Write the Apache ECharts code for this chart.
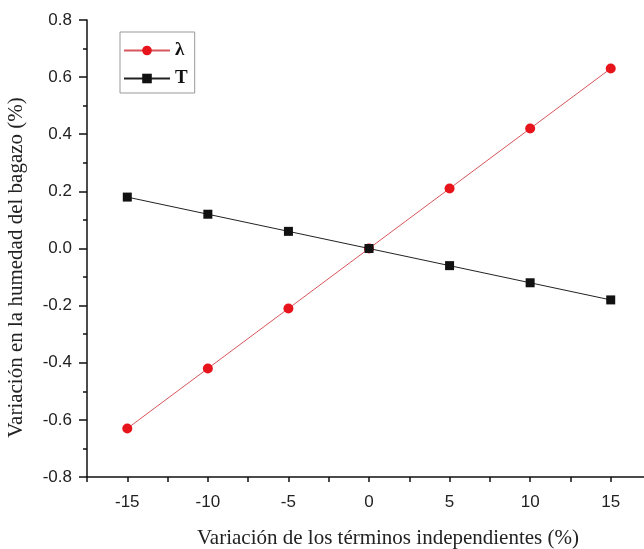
<!DOCTYPE html>
<html>
<head>
<meta charset="utf-8">
<script src="https://cdn.jsdelivr.net/npm/echarts@6/dist/echarts.min.js"></script>
<style>
  html, body { margin: 0; padding: 0; background: #fff; }
  #chart { width: 644px; height: 549px; }
</style>
</head>
<body>
<div id="chart"></div>
<script>
// Variation of independent terms (%)
const xValues = [-15, -10, -5, 0, 5, 10, 15];
// Moisture variation for each parameter (%)
const lambdaValues = [-0.63, -0.42, -0.21, 0.0, 0.21, 0.42, 0.63];
const tValues = [0.18, 0.12, 0.06, 0.0, -0.06, -0.12, -0.18];
const seriesNames = ['λ', 'T'];

const pairs = (ys) => xValues.map((x, i) => [x, ys[i]]);

const chart = echarts.init(document.getElementById('chart'));
const labelFont = { color: '#222', fontSize: 17, fontFamily: 'Liberation Sans, Arial, sans-serif' };
const titleFont = { color: '#222', fontSize: 21, fontFamily: 'Liberation Serif, Times New Roman, serif' };

chart.setOption({
  animation: false,
  backgroundColor: '#fff',
  grid: { left: 87, top: 20, width: 564, height: 457, containLabel: false, outerBoundsMode: 'none' },
  legend: {
    left: 120, top: 32,
    orient: 'vertical',
    itemWidth: 46, itemHeight: 12, itemGap: 9,
    padding: [9, 7, 5, 3],
    borderColor: '#999', borderWidth: 1,
    textStyle: { color: '#111', fontSize: 19, fontFamily: 'Liberation Serif, Times New Roman, serif', fontWeight: 'bold' },
    data: seriesNames
  },
  xAxis: {
    type: 'value',
    min: -17.5, max: 17.5, interval: 2.5,
    name: 'Variación de los términos independientes (%)',
    nameLocation: 'middle', nameGap: 51,
    nameTextStyle: Object.assign({ padding: [0, 0, 0, 38] }, titleFont),
    axisLine: { onZero: false, lineStyle: { color: '#111', width: 1.5 } },
    axisTick: { inside: false, length: 5, lineStyle: { color: '#111', width: 1.5 } },
    axisLabel: Object.assign({ margin: 17, formatter: v => (v % 5 === 0 ? String(v) : '') }, labelFont),
    splitLine: { show: false }
  },
  yAxis: {
    type: 'value',
    min: -0.8, max: 0.8, interval: 0.2,
    name: 'Variación en la humedad del bagazo (%)',
    nameLocation: 'middle', nameGap: 60,
    nameTextStyle: Object.assign({ padding: [0, 38, 0, 0] }, titleFont),
    axisLine: { show: true, onZero: false, lineStyle: { color: '#111', width: 1.5 } },
    axisTick: { show: true, length: 8, lineStyle: { color: '#111', width: 1.5 } },
    minorTick: { show: true, splitNumber: 2, length: 4, lineStyle: { color: '#111', width: 1.5 } },
    axisLabel: Object.assign({ margin: 15, formatter: v => v.toFixed(1) }, labelFont),
    splitLine: { show: false }
  },
  series: [
    {
      name: seriesNames[0],
      type: 'line',
      data: pairs(lambdaValues),
      symbol: 'circle', symbolSize: 10,
      itemStyle: { color: '#e8141c' },
      lineStyle: { color: '#d8565c', width: 1 },
      z: 2
    },
    {
      name: seriesNames[1],
      type: 'line',
      data: pairs(tValues),
      symbol: 'rect', symbolSize: 9,
      itemStyle: { color: '#111' },
      lineStyle: { color: '#222', width: 1 },
      z: 3
    }
  ]
});
</script>
</body>
</html>
